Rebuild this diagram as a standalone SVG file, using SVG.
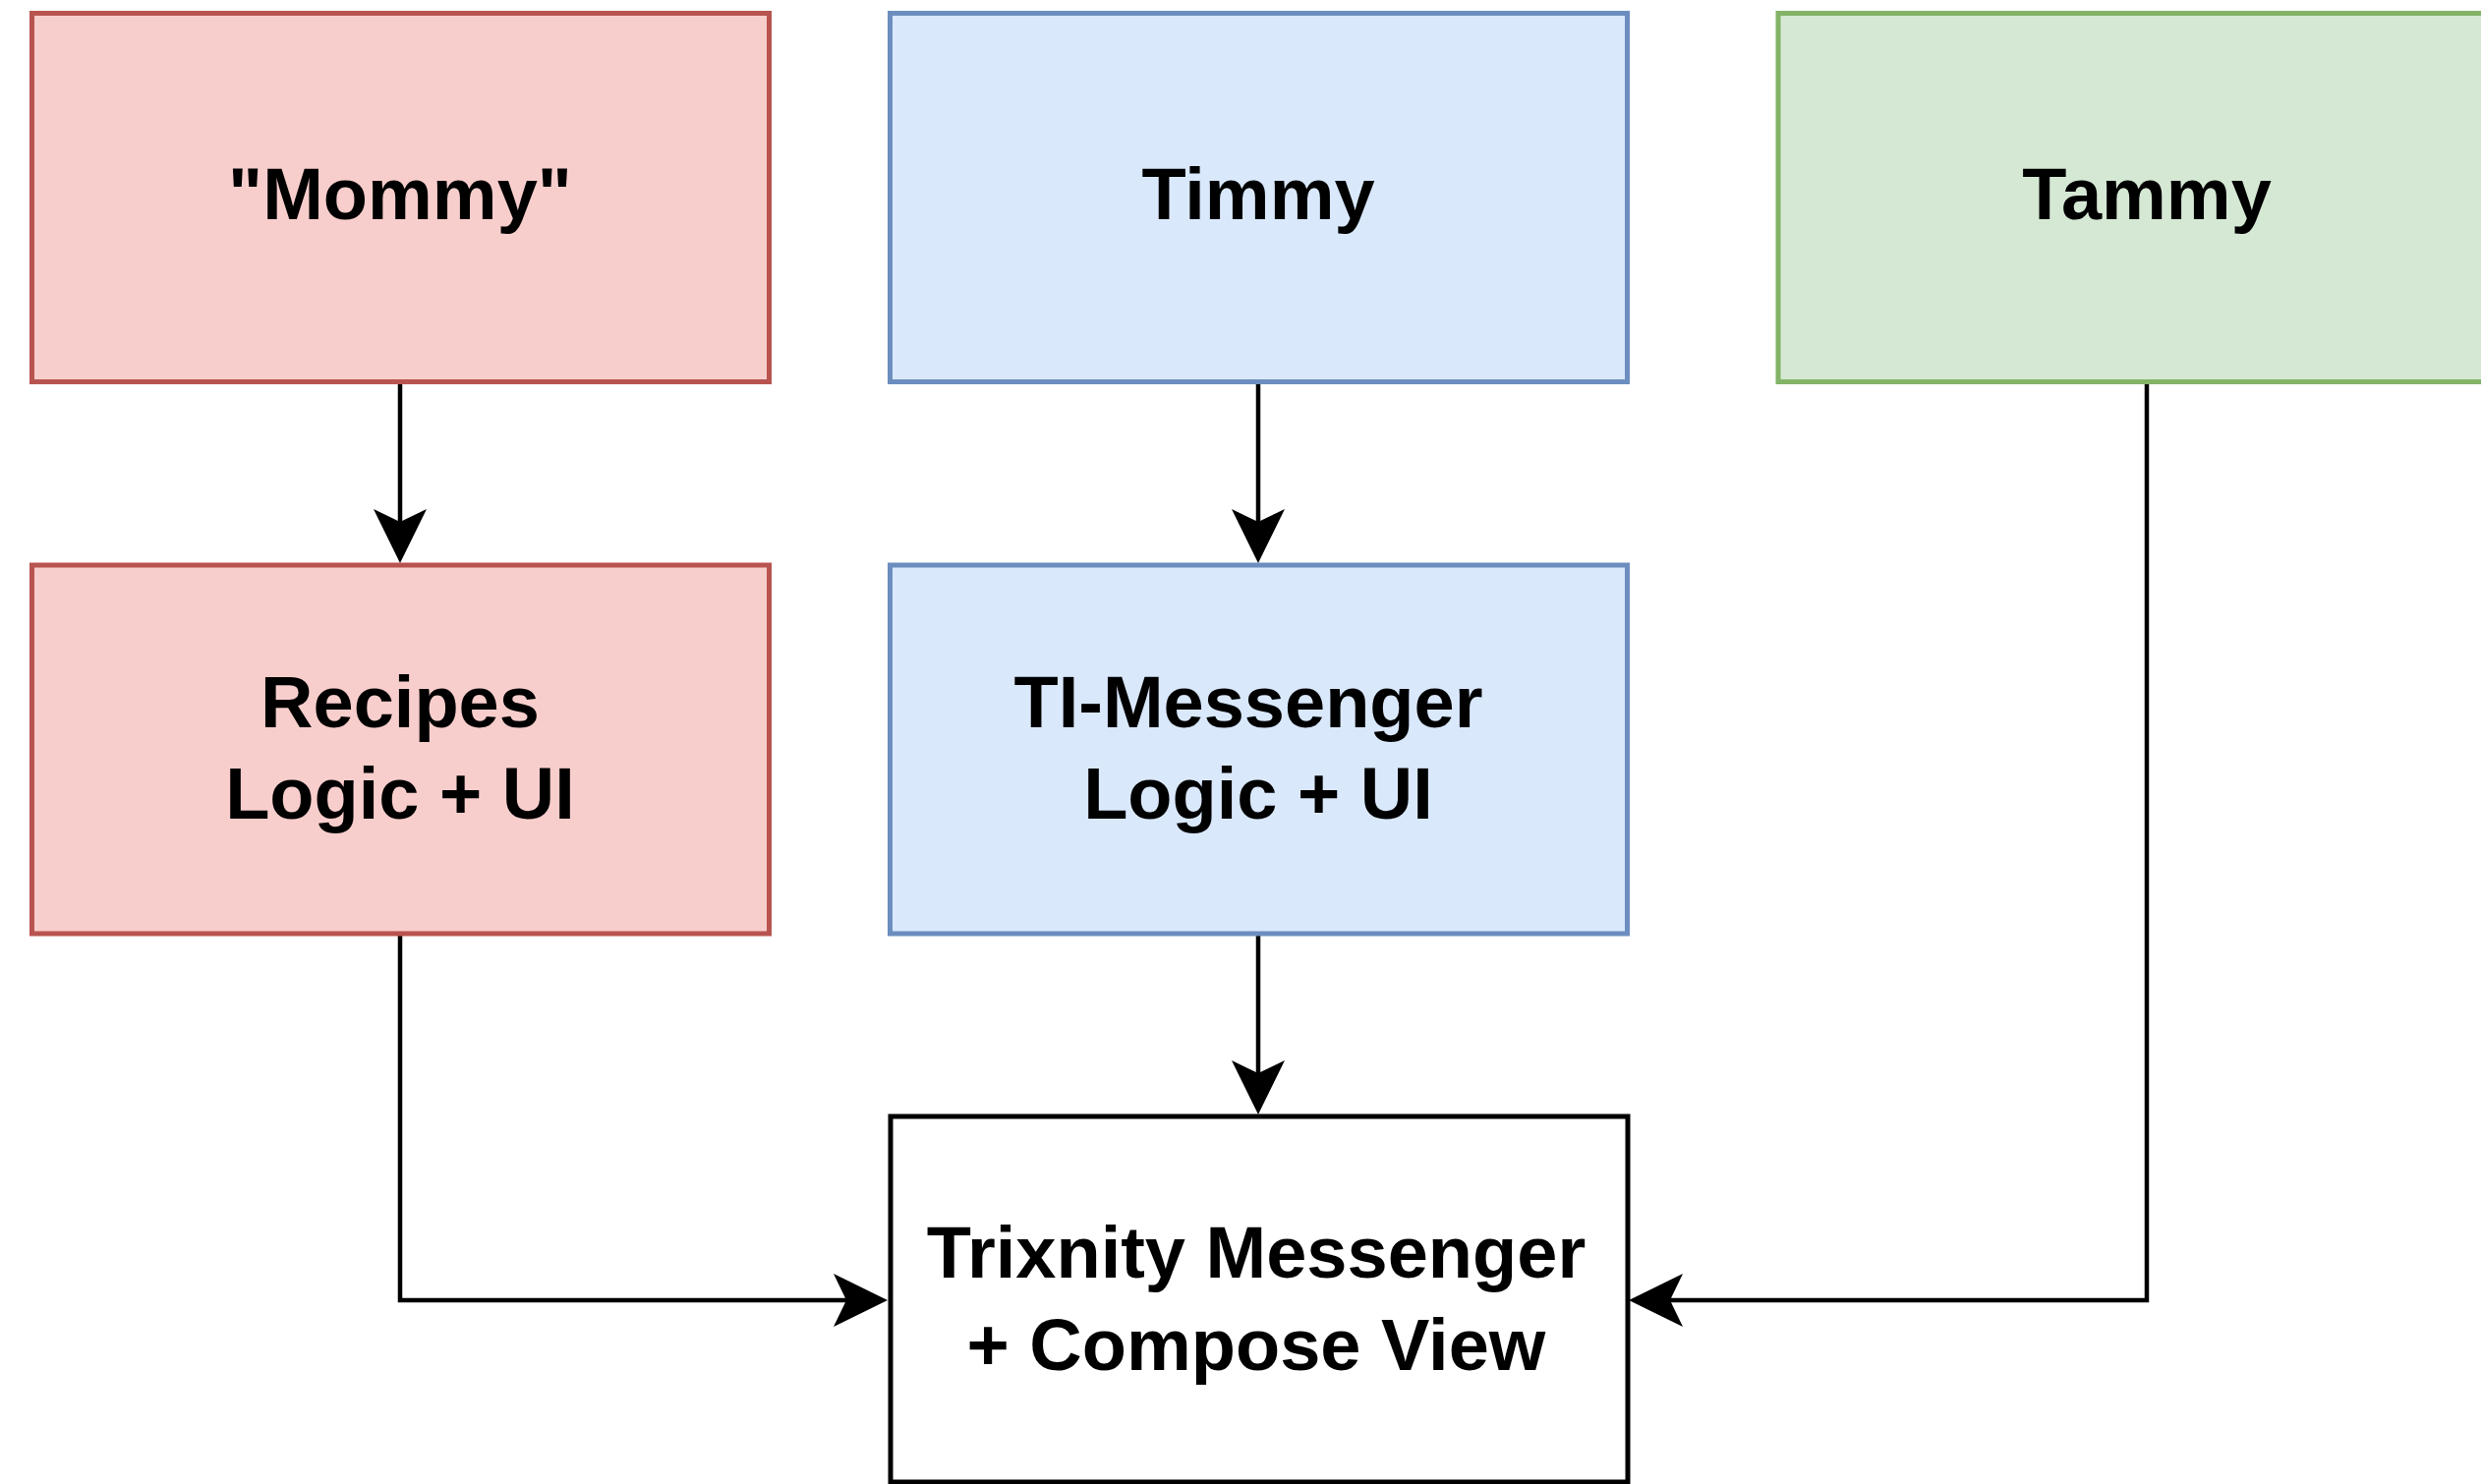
<svg xmlns="http://www.w3.org/2000/svg" width="2524" height="1510" viewBox="0 0 2524 1510">
<style>
.box{stroke-width:5}
.red{fill:#f8cecc;stroke:#b85450}
.blue{fill:#dae8fc;stroke:#6c8ebf}
.green{fill:#d5e8d4;stroke:#82b366}
.plain{fill:#ffffff;stroke:#000000}
.lbl{font-family:"Liberation Sans",Arial,sans-serif;font-weight:bold;font-size:74px;fill:#000;text-anchor:middle}
.edge{fill:none;stroke:#000;stroke-width:4.5;marker-end:url(#arr)}
</style>
<defs>
<marker id="arr" markerUnits="userSpaceOnUse" viewBox="-56 -28 57 56" markerWidth="57" markerHeight="56" refX="-42" refY="0" orient="auto">
<path d="M0,0 L-55,-27 L-42,0 L-55,27 Z" fill="#000"/>
</marker>
</defs>
<rect width="2524" height="1510" fill="#ffffff"/>
<g id="connectors">
<path class="edge" d="M407,388 L407,531"/>
<path class="edge" d="M1280,388 L1280,531"/>
<path class="edge" d="M1280,950 L1280,1092"/>
<path class="edge" d="M407,950 L407,1323 L861,1323"/>
<path class="edge" d="M2184,388 L2184,1323 L1699,1323"/>
</g>
<g id="mommy">
<rect class="box red" x="32.5" y="13.5" width="750" height="375"/>
<text class="lbl" x="407" y="223">"Mommy"</text>
</g>
<g id="timmy">
<rect class="box blue" x="905.5" y="13.5" width="750" height="375"/>
<text class="lbl" x="1280" y="223">Timmy</text>
</g>
<g id="tammy">
<rect class="box green" x="1809" y="13.5" width="750" height="375"/>
<text class="lbl" x="2184" y="223">Tammy</text>
</g>
<g id="recipes">
<rect class="box red" x="32.5" y="575" width="750" height="375"/>
<text class="lbl" x="407" y="740">Recipes</text>
<text class="lbl" x="407" y="833">Logic + UI</text>
</g>
<g id="ti-messenger">
<rect class="box blue" x="905.5" y="575" width="750" height="375"/>
<text class="lbl" x="1270" y="740">TI-Messenger</text>
<text class="lbl" x="1280" y="833">Logic + UI</text>
</g>
<g id="trixnity">
<rect class="box plain" x="906" y="1136" width="750" height="372"/>
<text class="lbl" x="1278" y="1300">Trixnity Messenger</text>
<text class="lbl" x="1278" y="1394">+ Compose View</text>
</g>
</svg>
